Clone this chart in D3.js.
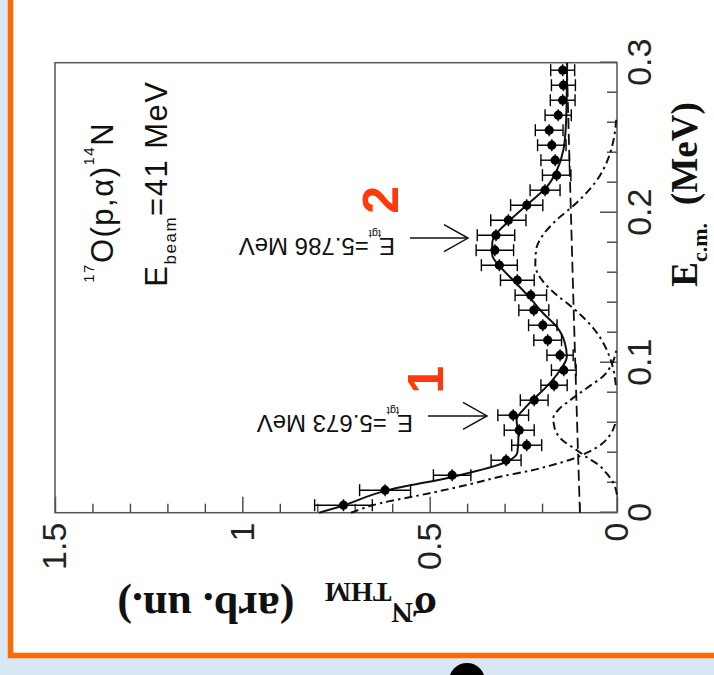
<!DOCTYPE html>
<html>
<head>
<meta charset="utf-8">
<script src="https://cdn.jsdelivr.net/npm/d3@7/dist/d3.min.js"></script>
<style>
body { margin: 0; background: #fff; }
</style>
</head>
<body>
<div id="chart"></div>
<script>
// measured points: E c.m. (MeV) and sigma (arb. un.)
var energy = [0.005, 0.015, 0.025, 0.035, 0.045, 0.055, 0.065, 0.075, 0.085, 0.095,
              0.105, 0.115, 0.125, 0.135, 0.145, 0.155, 0.165, 0.175, 0.185, 0.195,
              0.205, 0.215, 0.225, 0.235, 0.245, 0.255, 0.265, 0.275, 0.285, 0.295];
var sigma = [0.730, 0.619, 0.440, 0.296, 0.241, 0.261, 0.277, 0.221, 0.168, 0.142,
             0.152, 0.185, 0.198, 0.222, 0.230, 0.266, 0.314, 0.326, 0.323, 0.290,
             0.241, 0.192, 0.161, 0.165, 0.174, 0.181, 0.157, 0.145, 0.143, 0.145];
var sigmaErr = [0.077, 0.068, 0.050, 0.040, 0.040, 0.040, 0.041, 0.037, 0.035, 0.033,
                0.035, 0.037, 0.038, 0.040, 0.042, 0.045, 0.048, 0.050, 0.050, 0.047,
                0.043, 0.040, 0.038, 0.038, 0.038, 0.037, 0.035, 0.033, 0.032, 0.032];
var energyErr = [0.004, 0.004, 0.004, 0.004, 0.004, 0.004, 0.004, 0.004, 0.004, 0.004,
                 0.004, 0.004, 0.004, 0.004, 0.004, 0.004, 0.004, 0.004, 0.004, 0.004,
                 0.004, 0.004, 0.004, 0.004, 0.004, 0.004, 0.004, 0.004, 0.004, 0.004];

// total fit (solid)
var fitE = [0, 0.0045, 0.0149, 0.024, 0.034, 0.040, 0.051, 0.062, 0.071, 0.084, 0.095, 0.104,
            0.113, 0.124, 0.133, 0.144, 0.155, 0.164, 0.172, 0.180, 0.188, 0.195, 0.206,
            0.217, 0.228, 0.242, 0.260, 0.280, 0.300];
var fitS = [0.795, 0.735, 0.614, 0.437, 0.294, 0.266, 0.263, 0.268, 0.241, 0.188, 0.152, 0.134,
            0.139, 0.161, 0.197, 0.235, 0.277, 0.312, 0.333, 0.333, 0.315, 0.286, 0.237,
            0.188, 0.161, 0.143, 0.136, 0.134, 0.133];
// background (dashed)
var bgE = [0, 0.13, 0.3];
var bgS = [0.099, 0.115, 0.134];
// low energy tail (dash-dot)
var lowE = [0, 0.0063, 0.013, 0.019, 0.0245, 0.028, 0.032, 0.036, 0.040, 0.046, 0.052, 0.060];
var lowS = [0.71, 0.632, 0.50, 0.392, 0.303, 0.232, 0.17, 0.117, 0.08, 0.04, 0.018, 0.004];
// resonance 1 (dash-dot)
var res1E = [0.012, 0.020, 0.026, 0.032, 0.037, 0.043, 0.048, 0.056, 0.063, 0.069, 0.075, 0.083, 0.091, 0.100, 0.108];
var res1S = [0.000, 0.010, 0.027, 0.050, 0.081, 0.115, 0.144, 0.166, 0.170, 0.155, 0.125, 0.081, 0.037, 0.012, 0.002];
// resonance 2 (dash-dot)
var res2E = [0.085, 0.097, 0.111, 0.120, 0.128, 0.137, 0.146, 0.155, 0.165, 0.175, 0.185, 0.195,
             0.205, 0.215, 0.225, 0.237, 0.250, 0.262];
var res2S = [0.003, 0.011, 0.032, 0.054, 0.081, 0.120, 0.165, 0.200, 0.218, 0.216, 0.198, 0.162,
             0.115, 0.075, 0.045, 0.022, 0.008, 0.002];

var xTicks = [0, 0.1, 0.2, 0.3];
var xTickLabels = ["0", "0.1", "0.2", "0.3"];
var xMinor = [0.02, 0.04, 0.06, 0.08, 0.12, 0.14, 0.16, 0.18, 0.22, 0.24, 0.26, 0.28];
var yTicks = [0, 0.5, 1, 1.5];
var yTickLabels = ["0", "0.5", "1", "1.5"];
var yMinor = [0.1, 0.2, 0.3, 0.4, 0.6, 0.7, 0.8, 0.9, 1.1, 1.2, 1.3, 1.4];

var width = 714, height = 675;
var plotW = 450, plotH = 562;
var sans = "'Liberation Sans', Arial, Helvetica, sans-serif";
var serif = "'Liberation Serif', 'Times New Roman', serif";

var svg = d3.select("#chart").append("svg")
    .attr("width", width)
    .attr("height", height);

// slide background + orange frame
svg.append("rect").attr("width", width).attr("height", height).style("fill", "#d9e6f4");
svg.append("rect").attr("x", 13).attr("y", 0).attr("width", width - 13).attr("height", 653).style("fill", "#fff");
svg.append("path")
    .attr("d", "M10.5,0 V655.5 H714")
    .style("fill", "none")
    .style("stroke", "#ff6a00")
    .style("stroke-width", 5.5);
svg.append("circle").attr("cx", 467).attr("cy", 681).attr("r", 18).style("fill", "#000");

// the whole plot is turned a quarter turn
var g = svg.append("g").attr("transform", "translate(55,512.7) rotate(-90)");

var x = d3.scaleLinear().domain([0, 0.3]).range([0, plotW]);
var y = d3.scaleLinear().domain([0, 1.5]).range([plotH, 0]);

function styleAxis(sel) {
    sel.select(".domain").remove();
    sel.selectAll("line").style("stroke", "#444").style("stroke-width", 1.4);
    sel.selectAll("text").style("fill", "#222");
    sel.attr("font-size", 34).attr("font-family", sans);
}

g.append("g").attr("transform", "translate(0," + plotH + ")")
    .call(d3.axisBottom(x).tickValues(xMinor).tickSize(-10).tickFormat(""))
    .call(styleAxis);
g.append("g").attr("transform", "translate(0," + plotH + ")")
    .call(d3.axisBottom(x).tickValues(xTicks).tickSize(-17).tickPadding(10)
        .tickFormat(function(d, i) { return xTickLabels[i]; }))
    .call(styleAxis);
g.append("g")
    .call(d3.axisLeft(y).tickValues(yMinor).tickSize(-9).tickFormat(""))
    .call(styleAxis);
g.append("g")
    .call(d3.axisLeft(y).tickValues(yTicks).tickSize(-16).tickPadding(10)
        .tickFormat(function(d, i) { return yTickLabels[i]; }))
    .call(styleAxis);

g.append("rect")
    .attr("width", plotW).attr("height", plotH)
    .style("fill", "none")
    .style("stroke", "#555")
    .style("stroke-width", 1.5);

// curves
var line = d3.line()
    .x(function(d) { return x(d[0]); })
    .y(function(d) { return y(d[1]); })
    .curve(d3.curveMonotoneX);

function drawCurve(es, ss, dash, w) {
    g.append("path")
        .datum(es.map(function(e, i) { return [e, ss[i]]; }))
        .attr("d", line)
        .style("fill", "none")
        .style("stroke", "#111")
        .style("stroke-width", w)
        .style("stroke-dasharray", dash);
}
drawCurve(bgE, bgS, "11,5", 1.8);
drawCurve(lowE, lowS, "8,4,2.5,4", 2);
drawCurve(res1E, res1S, "8,4,2.5,4", 2);
drawCurve(res2E, res2S, "8,4,2.5,4", 2);
drawCurve(fitE, fitS, null, 2);

// error bars and points
var pts = energy.map(function(e, i) {
    return { e: e, s: sigma[i], se: sigmaErr[i], ee: energyErr[i] };
});
var bars = g.append("g").style("stroke", "#000").style("stroke-width", 1.4);
pts.forEach(function(p) {
    var cx = x(p.e), y0 = y(p.s - p.se), y1 = y(p.s + p.se);
    bars.append("line").attr("x1", cx).attr("x2", cx).attr("y1", y0).attr("y2", y1);
    bars.append("line").attr("x1", cx - 6).attr("x2", cx + 6).attr("y1", y0).attr("y2", y0);
    bars.append("line").attr("x1", cx - 6).attr("x2", cx + 6).attr("y1", y1).attr("y2", y1);
    bars.append("line").attr("x1", x(p.e - p.ee)).attr("x2", x(p.e + p.ee))
        .attr("y1", y(p.s)).attr("y2", y(p.s));
});
g.selectAll(".pt").data(pts).enter().append("circle")
    .attr("class", "pt")
    .attr("cx", function(d) { return x(d.e); })
    .attr("cy", function(d) { return y(d.s); })
    .attr("r", 4.6)
    .style("fill", "#000");

// reaction and beam energy
var t1 = g.append("text")
    .attr("x", x(0.1533)).attr("y", y(1.345))
    .style("font-family", sans).style("font-size", "31px").style("fill", "#111")
    .style("letter-spacing", "1.5px");
t1.append("tspan").text("17").style("font-size", "15px").attr("dy", -19);
t1.append("tspan").text("O(p,\u03b1)").attr("dy", 19);
t1.append("tspan").text("14").style("font-size", "15px").attr("dy", -19);
t1.append("tspan").text("N").attr("dy", 19);

var t2 = g.append("text")
    .attr("x", x(0.1507)).attr("y", y(1.2011))
    .style("font-family", sans).style("font-size", "31px").style("fill", "#111")
    .style("letter-spacing", "1.5px");
t2.append("tspan").text("E");
t2.append("tspan").text("beam").style("font-size", "17px").attr("dy", 9);
t2.append("tspan").text("=41 MeV").attr("dy", -9);

// arrows with target energies
var arrowE = [0.0645, 0.1831];
var arrowTop = [0.5045, 0.5525];
var arrowTip = [0.347, 0.3977];
var labelE = [0.0651, 0.1831];
var labelS = [0.5445, 0.5925];
var labelText = ["=5.673 MeV", "=5.786 MeV"];

arrowE.forEach(function(e, i) {
    var ax = x(e), ya = y(arrowTop[i]), yb = y(arrowTip[i]);
    g.append("line").attr("x1", ax).attr("x2", ax).attr("y1", ya).attr("y2", yb)
        .style("stroke", "#111").style("stroke-width", 1.5);
    g.append("path")
        .attr("d", "M" + (ax - 13.5) + "," + (yb - 24) + " L" + ax + "," + yb + " L" + (ax + 13.5) + "," + (yb - 24))
        .style("fill", "none").style("stroke", "#111").style("stroke-width", 1.5);
    var t = g.append("text")
        .attr("transform", "translate(" + x(labelE[i]) + "," + y(labelS[i]) + ") rotate(-90)")
        .style("font-family", sans).style("font-size", "24px").style("fill", "#111");
    t.append("tspan").text("E");
    t.append("tspan").text("tgt").style("font-size", "11px").attr("dy", 8).attr("dx", -2);
    t.append("tspan").text(labelText[i]).attr("dy", -8);
});

// red peak numbers
var peakE = [0.0885, 0.2085];
var peakS = [0.4644, 0.5845];
var peakText = ["1", "2"];
peakE.forEach(function(e, i) {
    g.append("text")
        .attr("x", x(e)).attr("y", y(peakS[i]))
        .attr("text-anchor", "middle")
        .style("font-family", sans).style("font-weight", "bold")
        .style("font-size", "50px").style("fill", "#ff3a0a")
        .text(peakText[i]);
});

// axis titles
var xt = g.append("text")
    .attr("x", 226).attr("y", plotH + 80)
    .style("font-family", serif).style("font-weight", "bold")
    .style("font-size", "37px").style("fill", "#111");
xt.append("tspan").text("E");
xt.append("tspan").text("c.m.").style("font-size", "22px").attr("dy", 10);
xt.append("tspan").text("(MeV)").attr("dy", -10).attr("dx", 18);

var yt = g.append("text")
    .attr("transform", "translate(-80,382) rotate(-90)")
    .style("font-family", serif).style("font-weight", "bold")
    .style("font-size", "44px").style("fill", "#111");
yt.append("tspan").text("\u03c3");
yt.append("tspan").text("N").style("font-size", "30px").attr("dy", -10);
yt.append("tspan").text("THM").style("font-size", "28px").attr("dy", 20);
yt.append("tspan").text("(arb. un.)").attr("dy", -10).attr("dx", 30);
</script>
</body>
</html>
